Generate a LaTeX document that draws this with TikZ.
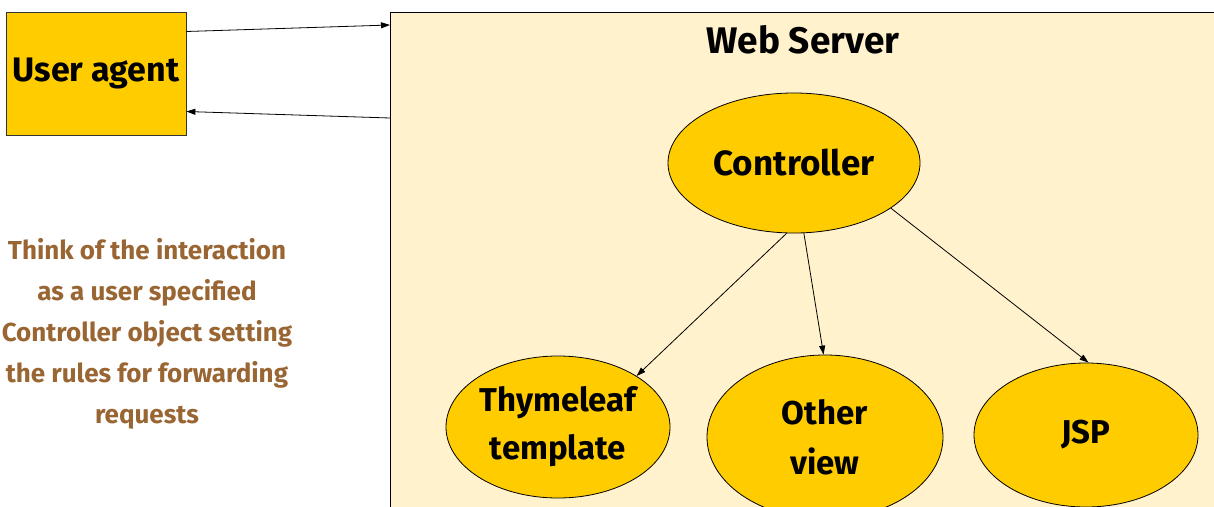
\documentclass[tikz,border=0pt]{standalone}
\usepackage{fontspec}
\setmainfont{Fira Sans}
\usetikzlibrary{shapes.geometric,arrows.meta}
\definecolor{gold}{HTML}{FFCC00}
\definecolor{cream}{HTML}{FFF2CC}
\definecolor{umber}{HTML}{996633}

\begin{document}
\begin{tikzpicture}[x=1pt,y=-1pt,line width=0.8pt,
    every node/.style={font=\bfseries\fontsize{33}{50}\selectfont, align=center},
    blob/.style={ellipse,draw,fill=gold,inner sep=0pt},
    link/.style={-{Triangle[length=9pt,width=6pt]}}]
    \useasboundingbox (0,0) rectangle (1214,506);
    \clip (0,0) rectangle (1214,506);

    \node[draw=black!80, fill=gold, minimum width=180pt, minimum height=123pt, inner sep=0pt,
          font=\bfseries\fontsize{34}{40}\selectfont] (ua) at (96,73.5) {User agent};
    \node[draw, fill=cream, minimum width=840pt, minimum height=520pt, anchor=north west, inner sep=0pt] (ws) at (390,12) {};
    \node[font=\bfseries\fontsize{37}{40}\selectfont] (wslabel) at (803,40) {Web Server};

    \node[blob, minimum width=252pt, minimum height=140pt, font=\bfseries\fontsize{35}{40}\selectfont] (ctrl) at (794,163) {Controller};
    \node[blob, minimum width=224pt, minimum height=142pt] (thy) at (558,427) {Thymeleaf\\[-2pt]template};
    \node[blob, minimum width=236pt, minimum height=164pt] (other) at (825,437) {Other\\view};
    \node[blob, minimum width=224pt, minimum height=144pt] (jsp) at (1086,435) {JSP};

    % side note
    \node[text=umber, font=\bfseries\fontsize{26}{41}\selectfont] (note) at (147,334)
        {Think of the interaction\\as a user specified\\Controller object setting\\the rules for forwarding\\requests};

    \path[link]
        ([yshift=42pt]ua.east) edge ([yshift=-13pt]ws.north west)
        ([yshift=-106pt]ws.north west) edge ([yshift=-38pt]ua.east)
        (ctrl.264) edge (thy.33)
        (ctrl.278) edge (other.91)
        (ctrl.335) edge (jsp.88);
\end{tikzpicture}
\end{document}
